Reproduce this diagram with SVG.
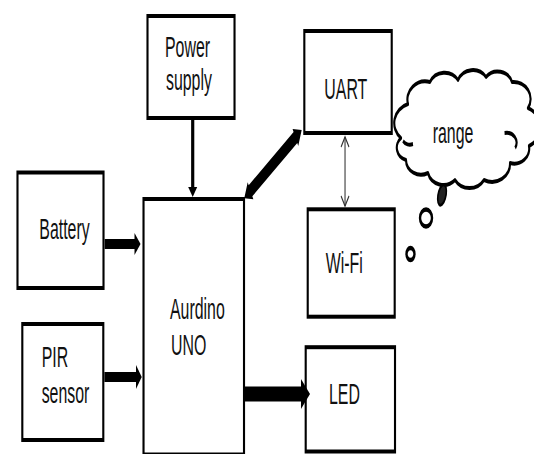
<svg xmlns="http://www.w3.org/2000/svg" width="534" height="454" viewBox="0 0 534 454">
<style>
.box{fill:#fff;stroke:#000;stroke-width:4}
.lbl{font-family:"Liberation Sans",Arial,sans-serif;font-size:30px;fill:#111}
.solid{fill:#000;stroke:none}
.thin{stroke:#333;stroke-width:2;fill:none}
.cloud{fill:#fff;stroke:#000;stroke-width:4;stroke-linejoin:round}
.ring{fill:#fff;stroke:#000;stroke-width:4.5}
</style>
<rect width="534" height="454" fill="#fff"/>
<g transform="scale(0.53,1)">
  <g id="power-supply">
    <rect class="box" x="278.3" y="16" width="164.2" height="102"/>
    <text class="lbl" x="311.3" y="56.7">Power</text>
    <text class="lbl" x="313.2" y="90.5">supply</text>
  </g>
  <g id="battery">
    <rect class="box" x="33" y="172.5" width="162.3" height="115.5"/>
    <text class="lbl" x="74.2" y="239.3">Battery</text>
  </g>
  <g id="pir-sensor">
    <rect class="box" x="42.1" y="324" width="152.8" height="116"/>
    <text class="lbl" x="78.6" y="366.7">PIR</text>
    <text class="lbl" x="78.6" y="403.3">sensor</text>
  </g>
  <g id="arduino">
    <rect class="box" x="270.8" y="199" width="189.6" height="255.5"/>
    <text class="lbl" x="320.8" y="319.3">Aurdino</text>
    <text class="lbl" x="322.6" y="355">UNO</text>
  </g>
  <g id="uart">
    <rect class="box" x="574.2" y="31" width="164.9" height="102"/>
    <text class="lbl" x="611.9" y="99.3">UART</text>
  </g>
  <g id="wifi">
    <rect class="box" x="580.6" y="209.3" width="164.1" height="107.4"/>
    <text class="lbl" x="614.5" y="272.7">Wi-Fi</text>
  </g>
  <g id="led">
    <rect class="box" x="576.8" y="347.2" width="168.5" height="104.3"/>
    <text class="lbl" x="620.8" y="404.3">LED</text>
  </g>
  <g id="range-cloud">
    <path class="cloud" d="M756.6,138 A37.7,20 0 0 1 769.8,104 A34,18 0 0 1 811.3,82 A30.2,16 0 0 1 864.2,80 A30.2,16 0 0 1 917,77 A28.3,15 0 0 1 966,82 A32.1,17 0 0 1 996.2,108 A39.6,21 0 0 1 998.1,146 A28.3,15 0 0 1 962.3,163 A34,18 0 0 1 913.2,180 A32.1,17 0 0 1 858.5,180 A30.2,16 0 0 1 807.5,173 A28.3,15 0 0 1 766,160 A24.5,13 0 0 1 756.6,138 Z"/>
    <path class="cloud" fill="none" d="M952,133 A18.9,10 0 0 1 972,148"/>
    <path class="cloud" fill="none" d="M760.4,141 A15,8 0 0 0 779.2,144"/>
    <text class="lbl" x="816.4" y="143.3">range</text>
    <ellipse cx="834" cy="195" rx="7" ry="11" transform="rotate(30 834 195)" fill="#222" stroke="#000" stroke-width="3"/>
    <ellipse class="ring" cx="803.8" cy="218" rx="11.3" ry="8.5"/>
    <ellipse class="ring" cx="774.5" cy="254" rx="7.5" ry="6"/>
  </g>
  <g id="connectors">
    <line x1="363.6" y1="118" x2="363.6" y2="189" stroke="#000" stroke-width="6"/>
    <polygon class="solid" points="355.1,187 372.1,187 363.6,197"/>
    <rect class="solid" x="197.5" y="239" width="57.5" height="10"/>
    <polygon class="solid" points="253.8,233 265.1,244 253.8,255"/>
    <rect class="solid" x="197" y="372" width="60" height="10"/>
    <polygon class="solid" points="256.6,365 267.4,377 256.6,389"/>
    <rect class="solid" x="460" y="386.5" width="110" height="15"/>
    <polygon class="solid" points="567.9,379 584.9,394 567.9,409"/>
    <polygon class="solid" points="460.9,198.3 467.36,182.34 469.23,185.3 553.93,132 552.06,129.04 569.2,130 562.74,145.96 560.87,143 476.17,196.3 478.04,199.26"/>
    <line class="thin" x1="651" y1="137" x2="651" y2="206"/>
    <polyline class="thin" points="643.5,147 651,137 658.5,147"/>
    <polyline class="thin" points="643.5,196 651,206 658.5,196"/>
  </g>
</g>
</svg>
